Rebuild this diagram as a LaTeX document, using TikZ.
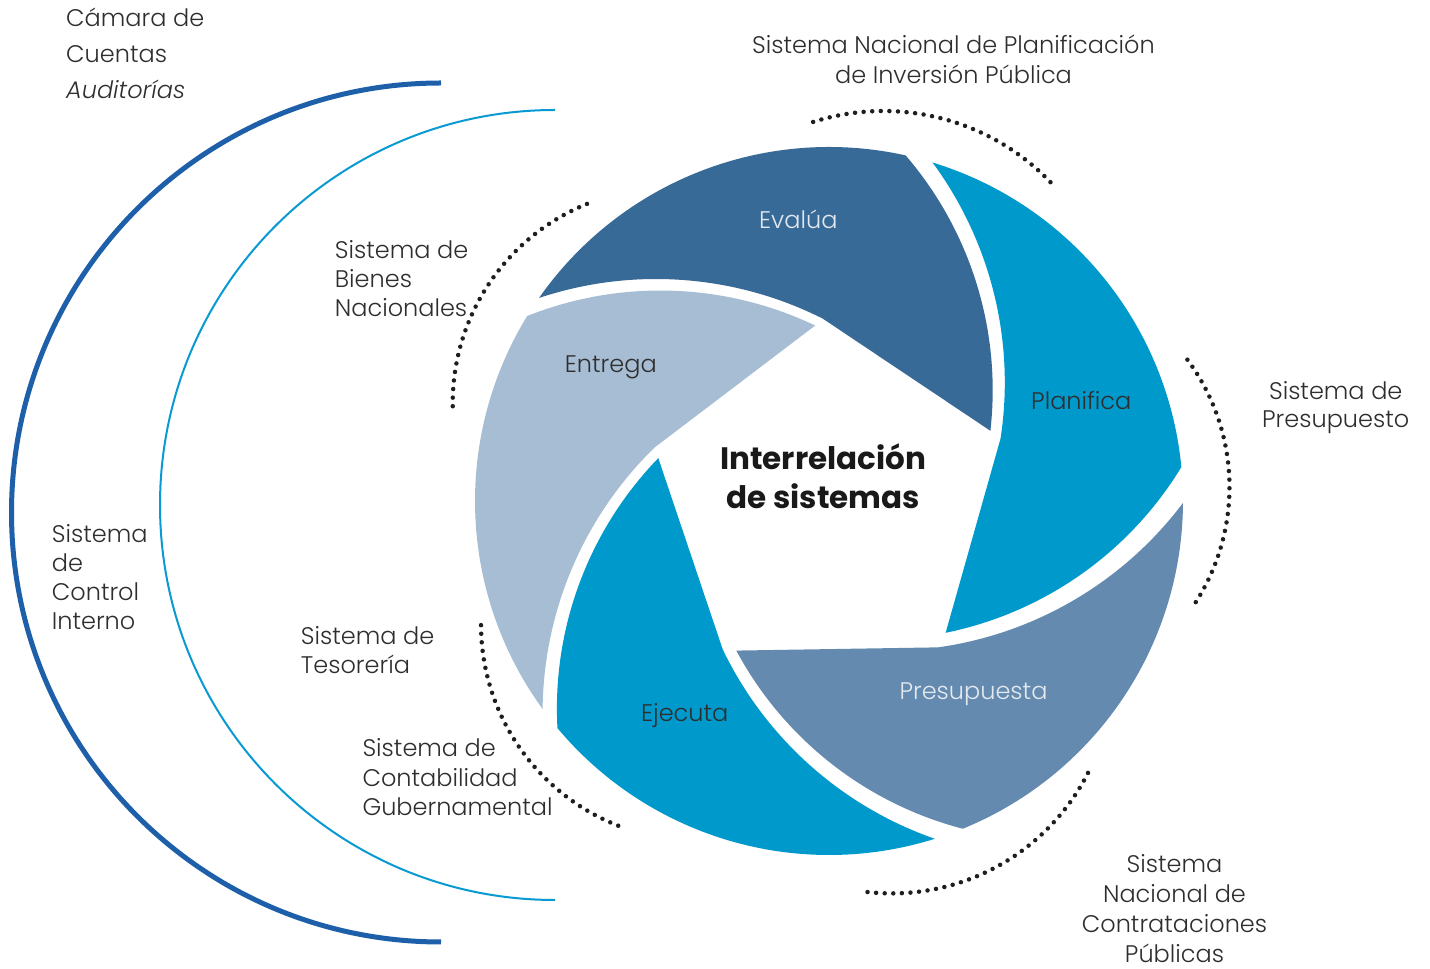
\documentclass[tikz,border=0pt]{standalone}
\usepackage{fontspec}
\IfFontExistsTF{Poppins Light}{\setmainfont{Poppins Light}}{\setmainfont{Poppins}}
\newfontfamily\titlefont{Poppins}
\definecolor{cEval}{HTML}{386A98}
\definecolor{cCyan}{HTML}{0099CC}
\definecolor{cPres}{HTML}{658AB0}
\definecolor{cEnt}{HTML}{A7BDD3}
\definecolor{cArcDark}{HTML}{1E5FA9}
\definecolor{cArcLight}{HTML}{0A9AD2}
\definecolor{cText}{HTML}{2E2E2E}
\definecolor{cLight}{HTML}{E4E9F0}
\definecolor{cDot}{HTML}{1E1E1E}
\newcommand\drawblade[2]{%
  \begin{scope}[shift={(829,468)}, rotate=#1]
    \fill[#2] (144.5:354) arc[start angle=144.5,end angle=77,radius=354]
      arc[start angle=40.2,end angle=-6.985,radius=360]
      -- (-4.75,182.48) arc[start angle=62.8,end angle=107.87,radius=371] -- cycle;
  \end{scope}}
\begin{document}
\begin{tikzpicture}[x=1pt,y=1pt,
  lbl/.style={text=cText, inner sep=0pt, anchor=base},
  bladelbl/.style={font=\fontsize{24}{28}\selectfont, inner sep=0pt, anchor=base},
  dotline/.style={cDot, line width=4.5pt, line cap=round, dash pattern=on 0pt off 8.6pt},
  ]
\useasboundingbox[fill=white] (0,0) rectangle (1430,969);
% big left arcs
\draw[cArcDark, line width=5pt] (441,456.5) ++(90:429.5) arc[start angle=90,end angle=270,radius=429.5];
\draw[cArcLight, line width=2pt] (555,464) ++(90:395) arc[start angle=90,end angle=270,radius=395];
% blades
\drawblade{0.5}{cEval}
\drawblade{-71.5}{cCyan}
\drawblade{-144.8}{cPres}
\drawblade{142.9}{cCyan}
\drawblade{71.5}{cEnt}
% dotted arcs
\draw[dotline] (883.5,626.5) ++(107.7:231.5) arc[start angle=107.7,end angle=42.2,radius=231.5];
\draw[dotline] (1016,482) ++(36.6:213.5) arc[start angle=36.6,end angle=-34.5,radius=213.5];
\draw[dotline] (891.8,295.6) ++(-26.9:220) arc[start angle=-26.9,end angle=-96.5,radius=220];
\draw[dotline] (697.3,344.6) ++(180.2:216.3) arc[start angle=180.2,end angle=250.5,radius=216.3];
\draw[dotline] (667.7,565.8) ++(112.05:215) arc[start angle=112.05,end angle=182.6,radius=215];
% blade labels
\node[bladelbl, text=cLight] (evalua) at (798.3,740) {Evalúa};
\node[bladelbl, text=cText] (entrega) at (610.8,596.7) {Entrega};
\node[bladelbl, text=cText] (planifica) at (1081.3,559.7) {Planifica};
\node[bladelbl, text=cLight] (presupuesta) at (973.5,269) {Presupuesta};
\node[bladelbl, text=cText] (ejecuta) at (684.7,247.3) {Ejecuta};
\node[font=\titlefont\bfseries\fontsize{31}{38.3}\selectfont, text=black!90, inner sep=0pt, anchor=base, align=center] (centro) at (823.3,460.7) {Interrelación\\de sistemas};
% outer labels (anchor = baseline of the last line)
\node[lbl, anchor=base west, align=left, font=\fontsize{24}{36}\selectfont] (camara) at (66,870.3) {Cámara de\\Cuentas\\\textit{Auditorías}};
\node[lbl, anchor=base west, align=left, font=\fontsize{24}{29}\selectfont] (bienes) at (334.7,652.3) {Sistema de\\Bienes\\Nacionales};
\node[lbl, anchor=base west, align=left, font=\fontsize{24}{29.3}\selectfont] (control) at (51.7,339) {Sistema\\de\\Control\\Interno};
\node[lbl, anchor=base west, align=left, font=\fontsize{24}{29}\selectfont] (tesoreria) at (300.7,295) {Sistema de\\Tesorería};
\node[lbl, anchor=base west, align=left, font=\fontsize{24}{29.7}\selectfont] (contabilidad) at (362.3,153) {Sistema de\\Contabilidad\\Gubernamental};
\node[lbl, align=center, font=\fontsize{24}{30}\selectfont] (planificacion) at (953.5,885) {Sistema Nacional de Planificación\\de Inversión Pública};
\node[lbl, align=center, font=\fontsize{24}{28}\selectfont] (presupuesto) at (1335.7,541.7) {Sistema de\\Presupuesto};
\node[lbl, align=center, font=\fontsize{24}{30}\selectfont] (contrataciones) at (1174.5,6.3) {Sistema\\Nacional de\\Contrataciones\\Públicas};
\end{tikzpicture}
\end{document}
